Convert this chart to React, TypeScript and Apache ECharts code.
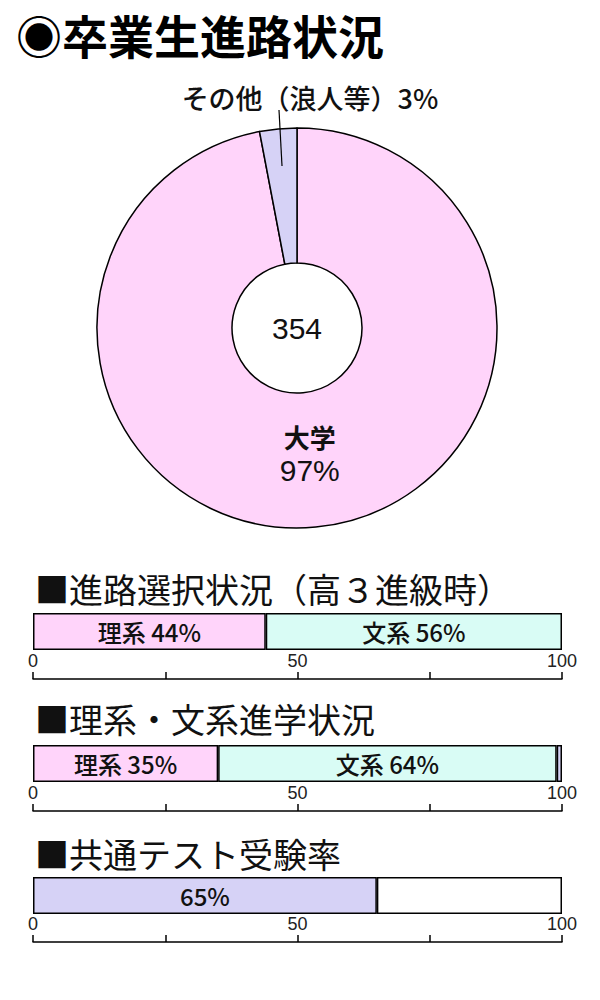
import { useEffect, useRef } from 'react';
import * as echarts from 'echarts';

// pie: 卒業生進路
const pieNames = ['大学', 'その他（浪人等）'];
const pieValues = [97, 3];
const pieColors = ['#ffd4fa', '#d6d2f6'];
const totalGraduates = 354;

// bar 1: 進路選択状況
const choiceNames = ['理系', '文系'];
const choiceValues = [44, 56];

// bar 2: 理系・文系進学状況
const advanceNames = ['理系', '文系', 'その他'];
const advanceValues = [35, 64, 1];

// bar 3: 共通テスト受験率
const testNames = ['受験', '未受験'];
const testValues = [65, 35];

const axisTicks = [0, 50, 100];

const FONT = '"Noto Sans CJK JP", "Noto Sans", sans-serif';
const NUM_FONT = '"Liberation Sans", Arial, sans-serif';
const PINK = '#ffd4fa';
const CYAN = '#d9fcf5';
const LAV = '#d6d2f6';

export default function App() {
  const chartRef = useRef<HTMLDivElement>(null);

  useEffect(() => {
    document.body.style.margin = '0';
    if (!chartRef.current) return;
    const chart = echarts.init(chartRef.current, undefined, { renderer: 'svg' });

    // bar grids: top, height, axis offset
    const grids = [
      { top: 613, height: 37, offset: 29 },
      { top: 745, height: 37, offset: 29 },
      { top: 877, height: 37, offset: 28 },
    ];

    const xAxes = grids.map((_, i) => ({
      type: 'value',
      gridIndex: i,
      min: 0,
      max: 100,
      interval: 25,
      position: 'bottom',
      offset: grids[i].offset,
      axisLine: { show: true, lineStyle: { color: '#000', width: 1.5 } },
      axisTick: { show: true, inside: true, length: 7, lineStyle: { color: '#000', width: 1.5 } },
      axisLabel: {
        inside: true,
        margin: 9,
        fontSize: 18,
        color: '#222',
        fontFamily: NUM_FONT,
        formatter: (v: number) => (axisTicks.includes(v) ? String(v) : ''),
      },
      splitLine: { show: false },
    }));

    const yAxes = grids.map((_, i) => ({
      type: 'category',
      gridIndex: i,
      data: [''],
      show: false,
    }));

    const barLabel = {
      show: true,
      position: 'inside',
      fontSize: 24,
      fontWeight: 500,
      color: '#111',
      fontFamily: FONT,
    };

    const barBase = (idx: number, stack: string) => ({
      type: 'bar',
      xAxisIndex: idx,
      yAxisIndex: idx,
      stack,
      barWidth: '100%',
    });

    const borderStyle = (color: string) => ({ color, borderColor: '#000', borderWidth: 1.5 });

    const choiceColors = [PINK, CYAN];
    const advanceColors = [PINK, CYAN, LAV];
    const testColors = [LAV, '#ffffff'];

    const barSeries: any[] = [
      ...choiceNames.map((n, k) => ({
        ...barBase(0, 's0'),
        name: n,
        data: [choiceValues[k]],
        itemStyle: borderStyle(choiceColors[k]),
        label: { ...barLabel, formatter: `${n} ${choiceValues[k]}%` },
      })),
      ...advanceNames.map((n, k) => ({
        ...barBase(1, 's1'),
        name: n,
        data: [advanceValues[k]],
        itemStyle: borderStyle(advanceColors[k]),
        label: { ...barLabel, show: k < 2, formatter: `${n} ${advanceValues[k]}%` },
      })),
      ...testNames.map((n, k) => ({
        ...barBase(2, 's2'),
        name: n,
        data: [testValues[k]],
        itemStyle: borderStyle(testColors[k]),
        label: { ...barLabel, show: k === 0, formatter: `${testValues[k]}%` },
      })),
    ];

    const heading = (text: string, y: number) => ({
      type: 'text',
      left: 35,
      top: y - 19,
      style: { text, fontSize: 34, fontFamily: FONT, fill: '#111' },
    });

    chart.setOption({
      animation: false,
      grid: grids.map((g) => ({ left: 33, width: 529, top: g.top, height: g.height })),
      xAxis: xAxes,
      yAxis: yAxes,
      graphic: [
        {
          type: 'text',
          left: 16,
          top: 11,
          style: { text: '◉卒業生進路状況', fontSize: 46, fontWeight: 'bold', fontFamily: FONT, fill: '#000' },
        },
        heading('■進路選択状況（高３進級時）', 590),
        heading('■理系・文系進学状況', 720),
        heading('■共通テスト受験率', 855),
        {
          type: 'text',
          x: 297,
          y: 328,
          style: {
            text: String(totalGraduates),
            fontSize: 30,
            fontFamily: NUM_FONT,
            fill: '#111',
            align: 'center',
            verticalAlign: 'middle',
          },
        },
        {
          type: 'line',
          shape: { x1: 279, y1: 110, x2: 282, y2: 166 },
          style: { stroke: '#000', lineWidth: 1.2 },
          z: 10,
        },
      ],
      series: [
        {
          type: 'pie',
          center: [297, 328],
          radius: [65, 200],
          startAngle: 90,
          clockwise: true,
          silent: true,
          itemStyle: { borderColor: '#000', borderWidth: 1.5 },
          labelLayout: (p: any) =>
            p.dataIndex === 1
              ? { x: 310, y: 97, align: 'center', verticalAlign: 'middle' }
              : { dy: -9 },
          data: pieNames.map((n, k) => ({
            name: n,
            value: pieValues[k],
            itemStyle: { color: pieColors[k] },
            label:
              k === 0
                ? {
                    show: true,
                    position: 'inside',
                    formatter: '{a|{b}}\n{c|{d}%}',
                    rich: {
                      a: { fontSize: 26, fontWeight: 'bold', fontFamily: FONT, color: '#111', lineHeight: 34 },
                      c: { fontSize: 30, fontFamily: NUM_FONT, color: '#111', lineHeight: 34 },
                    },
                  }
                : {
                    show: true,
                    position: 'outside',
                    overflow: 'none',
                    width: 300,
                    formatter: '{b}{d}%',
                    fontSize: 27,
                    fontWeight: 500,
                    fontFamily: FONT,
                    color: '#111',
                  },
            labelLine: { show: false },
          })),
        },
        ...barSeries,
      ],
    });

    return () => {
      chart.dispose();
    };
  }, []);

  return <div ref={chartRef} style={{ width: 600, height: 1000 }} />;
}
